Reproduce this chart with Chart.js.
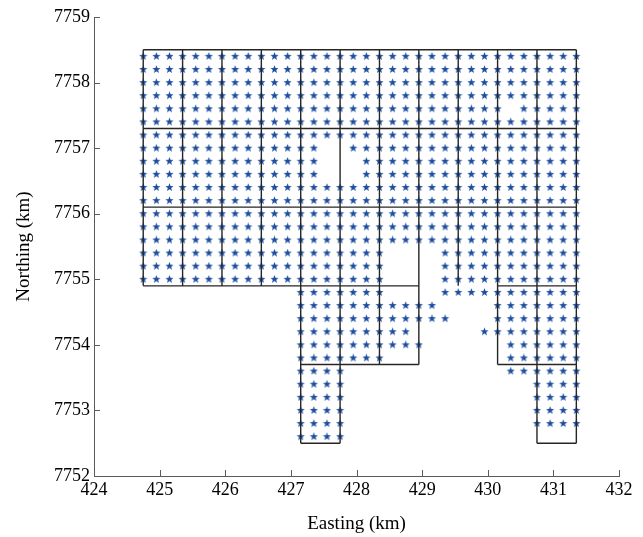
<!DOCTYPE html>
<html lang="en">
<head>
    <meta charset="UTF-8">
    <title>Station grid</title>
    <!-- Chart.js -->
    <script src="https://cdn.jsdelivr.net/npm/chart.js@4.4.1/dist/chart.umd.min.js"></script>
    <style>
        html, body { margin: 0; padding: 0; background: #fff; }
        #wrap { width: 643px; height: 537px; }
    </style>
</head>
<body>
    <div id="wrap"><canvas id="gridChart" width="643" height="537"></canvas></div>

    <script>
        // Axis ticks
        const eastTicks = [424, 425, 426, 427, 428, 429, 430, 431, 432];
        const eastTickLabels = ['424', '425', '426', '427', '428', '429', '430', '431', '432'];
        const northTicks = [7752, 7753, 7754, 7755, 7756, 7757, 7758, 7759];
        const northTickLabels = ['7752', '7753', '7754', '7755', '7756', '7757', '7758', '7759'];

        // Station columns (easting, km) and rows (northing, km)
        const stationEast = [424.75, 424.95, 425.15, 425.35, 425.55, 425.75, 425.95, 426.15, 426.35, 426.55,
                             426.75, 426.95, 427.15, 427.35, 427.55, 427.75, 427.95, 428.15, 428.35, 428.55,
                             428.75, 428.95, 429.15, 429.35, 429.55, 429.75, 429.95, 430.15, 430.35, 430.55,
                             430.75, 430.95, 431.15, 431.35];
        const stationNorth = [7758.4, 7758.2, 7758.0, 7757.8, 7757.6, 7757.4, 7757.2, 7757.0, 7756.8, 7756.6,
                              7756.4, 7756.2, 7756.0, 7755.8, 7755.6, 7755.4, 7755.2, 7755.0, 7754.8, 7754.6,
                              7754.4, 7754.2, 7754.0, 7753.8, 7753.6, 7753.4, 7753.2, 7753.0, 7752.8, 7752.6];

        // Which stations were measured: one string per row, one char per column (spaces only for reading)
        const stationMask = [
            '*** *** *** *** *** *** *** *** *** *** *** *',
            '*** *** *** *** *** *** *** *** *** *** *** *',
            '*** *** *** *** *** *** *** *** *** *** *** *',
            '*** *** *** *** *** *** *** *** *** *** *** *',
            '*** *** *** *** *** *** *** *** *** *.* *** *',
            '*** *** *** *** *** *** *** *** *** *** *** *',
            '*** *** *** *** *** *** *** *** *** *** *** *',
            '*** *** *** *** **. .** *** *** *** *** *** *',
            '*** *** *** *** **. ..* *** *** *** *** *** *',
            '*** *** *** *** **. ..* *** *** *** *** *** *',
            '*** *** *** *** *** *** *** *** *** *** *** *',
            '*** *** *** *** *** *** *** *** *** *** *** *',
            '*** *** *** *** *** *** *** *** *** *** *** *',
            '*** *** *** *** *** *** *** *** *** *** *** *',
            '*** *** *** *** *** *** *** *** *** *** *** *',
            '*** *** *** *** *** *** *.. ..* *** *** *** *',
            '*** *** *** *** *** *** *.. ..* *** *** *** *',
            '*** *** *** *** *** *** *.. ..* *** *** *** *',
            '... ... ... ... *** *** *.. ..* *** *** *** *',
            '... ... ... ... *** *** *** **. ... *** *** *',
            '... ... ... ... *** *** *** *** ... *** *** *',
            '... ... ... ... *** *** *** ... ..* *** *** *',
            '... ... ... ... *** *** *** *.. ... .** *** *',
            '... ... ... ... *** *** *.. ... ... .** *** *',
            '... ... ... ... *** *.. ... ... ... .** *** *',
            '... ... ... ... *** *.. ... ... ... ... *** *',
            '... ... ... ... *** *.. ... ... ... ... *** *',
            '... ... ... ... *** *.. ... ... ... ... *** *',
            '... ... ... ... *** *.. ... ... ... ... *** *',
            '... ... ... ... *** *.. ... ... ... ... ... .'
        ];

        // Survey block outlines: [northing, east from, east to] and [easting, north from, north to]
        const outlineH = [
            [7758.5, 424.75, 431.35],
            [7757.3, 424.75, 431.35],
            [7756.1, 424.75, 431.35],
            [7754.9, 424.75, 428.95],
            [7754.9, 430.15, 431.35],
            [7753.7, 427.15, 428.95],
            [7753.7, 430.15, 431.35],
            [7752.5, 427.15, 427.75],
            [7752.5, 430.75, 431.35]
        ];
        const outlineV = [
            [424.75, 7754.9, 7758.5],
            [425.35, 7754.9, 7758.5],
            [425.95, 7754.9, 7758.5],
            [426.55, 7754.9, 7758.5],
            [427.15, 7752.5, 7758.5],
            [427.75, 7752.5, 7758.5],
            [428.35, 7753.7, 7758.5],
            [428.95, 7753.7, 7758.5],
            [429.55, 7754.9, 7758.5],
            [430.15, 7753.7, 7758.5],
            [430.75, 7752.5, 7758.5],
            [431.35, 7752.5, 7758.5]
        ];

        const axisColor = '#5a5a5a';
        const starColor = '#1e4f9f';
        const serif = "'Liberation Serif', 'Times New Roman', serif";

        // Build station points from the mask
        const stations = [];
        stationMask.forEach((row, r) => {
            row.replace(/ /g, '').split('').forEach((c, k) => {
                if (c === '*') stations.push({ x: stationEast[k], y: stationNorth[r] });
            });
        });

        // Outline segments, split by null points
        const outlinePts = [];
        outlineH.forEach(([n, e0, e1]) => outlinePts.push({ x: e0, y: n }, { x: e1, y: n }, { x: e1, y: null }));
        outlineV.forEach(([e, n0, n1]) => outlinePts.push({ x: e, y: n0 }, { x: e, y: n1 }, { x: e, y: null }));

        // Filled five point star marker
        function makeStar(size, color) {
            const c = document.createElement('canvas');
            c.width = size; c.height = size;
            const g = c.getContext('2d');
            const cx = size / 2, cy = size / 2, ro = size / 2 - 0.2, ri = ro * 0.42;
            g.beginPath();
            for (let i = 0; i < 10; i++) {
                const r = i % 2 ? ri : ro;
                const a = -Math.PI / 2 + i * Math.PI / 5;
                g.lineTo(cx + r * Math.cos(a), cy + r * Math.sin(a));
            }
            g.closePath();
            g.fillStyle = color;
            g.fill();
            return c;
        }

        // Ticks pointing into the plot, like the original
        const innerTicks = {
            id: 'innerTicks',
            afterDraw(chart) {
                const { ctx, chartArea: a, scales: { x, y } } = chart;
                ctx.save();
                ctx.strokeStyle = axisColor;
                ctx.lineWidth = 1;
                ctx.beginPath();
                x.ticks.forEach(t => {
                    const px = Math.round(x.getPixelForValue(t.value)) + 0.5;
                    ctx.moveTo(px, a.bottom);
                    ctx.lineTo(px, a.bottom - 6);
                });
                y.ticks.forEach(t => {
                    const py = Math.round(y.getPixelForValue(t.value)) + 0.5;
                    ctx.moveTo(a.left, py);
                    ctx.lineTo(a.left + 6, py);
                });
                ctx.stroke();
                ctx.restore();
            }
        };

        const ctx = document.getElementById('gridChart').getContext('2d');
        new Chart(ctx, {
            type: 'scatter',
            data: {
                datasets: [
                    {
                        label: 'Blocks',
                        data: outlinePts,
                        showLine: true,
                        spanGaps: false,
                        borderColor: '#262626',
                        borderWidth: 1.4,
                        pointRadius: 0,
                        order: 0
                    },
                    {
                        label: 'Stations',
                        data: stations,
                        pointStyle: makeStar(9, starColor),
                        pointRadius: 4,
                        order: 1
                    }
                ]
            },
            options: {
                responsive: false,
                animation: false,
                layout: { padding: { left: 0, top: 17, right: 24, bottom: 0 } },
                plugins: { legend: { display: false }, tooltip: { enabled: false } },
                scales: {
                    x: {
                        type: 'linear', min: 424, max: 432,
                        afterBuildTicks: s => { s.ticks = eastTicks.map(v => ({ value: v })); },
                        afterFit: s => { s.height = 61; },
                        ticks: {
                            callback: (v, i) => eastTickLabels[i],
                            font: { family: serif, size: 18 },
                            color: '#000', padding: 3, maxRotation: 0, autoSkip: false
                        },
                        grid: { drawOnChartArea: false, drawTicks: false },
                        border: { color: axisColor, width: 1 },
                        title: {
                            display: true, text: 'Easting (km)', color: '#000',
                            font: { family: serif, size: 19 },
                            padding: { top: 0, bottom: 2 }
                        }
                    },
                    y: {
                        type: 'linear', min: 7752, max: 7759,
                        afterBuildTicks: s => { s.ticks = northTicks.map(v => ({ value: v })); },
                        afterFit: s => { s.width = 94; },
                        ticks: {
                            callback: (v, i) => northTickLabels[i],
                            font: { family: serif, size: 18 },
                            color: '#000', padding: 4, autoSkip: false
                        },
                        grid: { drawOnChartArea: false, drawTicks: false },
                        border: { color: axisColor, width: 1 },
                        title: {
                            display: true, text: 'Northing (km)', color: '#000',
                            font: { family: serif, size: 19 },
                            padding: { top: 13, bottom: 0 }
                        }
                    }
                }
            },
            plugins: [innerTicks]
        });
    </script>
</body>
</html>
